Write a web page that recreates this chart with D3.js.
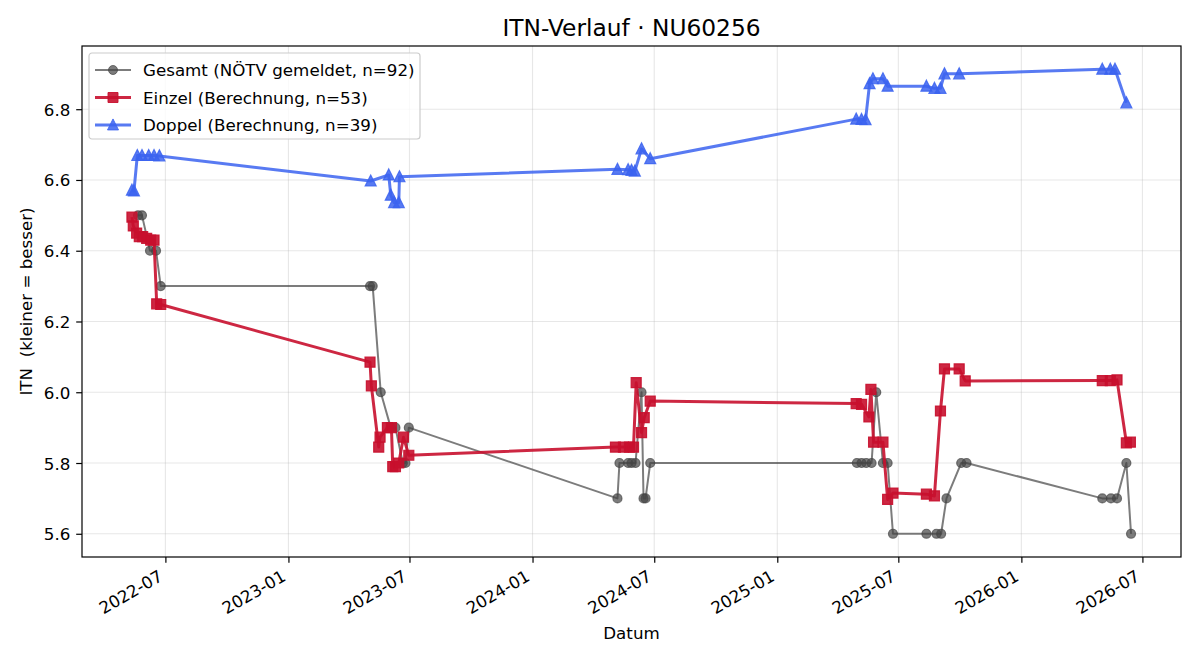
<!DOCTYPE html>
<html>
<head>
<meta charset="utf-8">
<script src="https://cdn.jsdelivr.net/npm/d3@7"></script>
<style>
  body { margin: 0; background: #fff; }
  svg, svg text { font-family: "DejaVu Sans", sans-serif; }
</style>
</head>
<body>
<div id="chart"></div>
<script>
// Gesamt (NÖTV gemeldet)
const gesamtDates = [
  '2022-05-21','2022-05-27','2022-06-08','2022-06-17','2022-06-24',
  '2023-05-03','2023-05-07','2023-05-19','2023-06-03','2023-06-10','2023-06-21','2023-06-25','2023-06-30',
  '2024-05-07','2024-05-10','2024-05-23','2024-05-28','2024-06-03','2024-06-12','2024-06-15','2024-06-18','2024-06-25',
  '2025-04-30','2025-05-07','2025-05-14','2025-05-22','2025-05-29','2025-06-08','2025-06-15','2025-06-23',
  '2025-08-12','2025-08-27','2025-09-03','2025-09-11','2025-10-03','2025-10-11',
  '2026-05-02','2026-05-15','2026-05-24','2026-06-07','2026-06-14'
];
const gesamtValues = [
  6.5, 6.5, 6.4, 6.4, 6.3,
  6.3, 6.3, 6.0, 5.9, 5.9, 5.8, 5.8, 5.9,
  5.7, 5.8, 5.8, 5.8, 5.8, 6.0, 5.7, 5.7, 5.8,
  5.8, 5.8, 5.8, 5.8, 6.0, 5.8, 5.8, 5.6,
  5.6, 5.6, 5.6, 5.7, 5.8, 5.8,
  5.7, 5.7, 5.7, 5.8, 5.6
];

// Einzel (Berechnung)
const einzelDates = [
  '2022-05-12','2022-05-14','2022-05-19','2022-05-23','2022-05-28','2022-06-03','2022-06-09','2022-06-14','2022-06-18','2022-06-24',
  '2023-05-03','2023-05-05','2023-05-16','2023-05-18','2023-05-29','2023-06-04','2023-06-06','2023-06-10','2023-06-15','2023-06-22','2023-06-30',
  '2024-05-04','2024-05-16','2024-05-25','2024-05-31','2024-06-04','2024-06-12','2024-06-16','2024-06-25',
  '2025-04-29','2025-05-07','2025-05-18','2025-05-21','2025-05-25','2025-06-08','2025-06-15','2025-06-23',
  '2025-08-12','2025-08-24','2025-09-02','2025-09-08','2025-09-30','2025-10-09',
  '2026-05-02','2026-05-14','2026-05-24','2026-06-07','2026-06-13'
];
const einzelValues = [
  6.495, 6.47, 6.45, 6.44, 6.44, 6.435, 6.43, 6.43, 6.25, 6.248,
  6.085, 6.018, 5.845, 5.873, 5.90, 5.90, 5.79, 5.79, 5.80, 5.873, 5.822,
  5.845, 5.845, 5.845, 5.845, 6.027, 5.886, 5.928, 5.975,
  5.968, 5.966, 5.93, 6.008, 5.859, 5.859, 5.697, 5.715,
  5.712, 5.707, 5.947, 6.066, 6.066, 6.032,
  6.033, 6.033, 6.035, 5.857, 5.859
];

// Doppel (Berechnung)
const doppelDates = [
  '2022-05-12','2022-05-15','2022-05-20','2022-05-27','2022-06-06','2022-06-14','2022-06-22',
  '2023-05-04','2023-05-31','2023-06-03','2023-06-08','2023-06-15','2023-06-16',
  '2024-05-07','2024-05-23','2024-05-28','2024-06-02','2024-06-12','2024-06-25',
  '2025-04-29','2025-05-07','2025-05-13','2025-05-19','2025-05-24','2025-06-08','2025-06-15',
  '2025-08-12','2025-08-24','2025-09-02','2025-09-08','2025-09-30',
  '2026-05-02','2026-05-14','2026-05-21','2026-06-07'
];
const doppelValues = [
  6.571, 6.569, 6.669, 6.669, 6.669, 6.669, 6.668,
  6.597, 6.614, 6.557, 6.536, 6.536, 6.609,
  6.630, 6.629, 6.627, 6.625, 6.688, 6.660,
  6.772, 6.771, 6.770, 6.872, 6.886, 6.886, 6.865,
  6.865, 6.859, 6.859, 6.900, 6.900,
  6.913, 6.913, 6.913, 6.818
];

const yTickValues = [5.6, 5.8, 6.0, 6.2, 6.4, 6.6, 6.8];

const legendLabels = [
  'Gesamt (NÖTV gemeldet, n=92)',
  'Einzel (Berechnung, n=53)',
  'Doppel (Berechnung, n=39)'
];

const parse = d3.timeParse('%Y-%m-%d');
const zip = (ds, vs) => ds.map((d, i) => ({ date: parse(d), value: vs[i] }));

const series = [
  { name: legendLabels[0], data: zip(gesamtDates, gesamtValues), color: '#444444', alpha: 0.7, lw: 2, marker: 'circle', size: 9 },
  { name: legendLabels[1], data: zip(einzelDates, einzelValues), color: '#c8102e', alpha: 0.9, lw: 3, marker: 'square', size: 10 },
  { name: legendLabels[2], data: zip(doppelDates, doppelValues), color: '#3b63f0', alpha: 0.85, lw: 3, marker: 'triangle', size: 11 }
];

// Setup dimensions
const width = 1200;
const height = 660;
const margin = { top: 46, right: 19, bottom: 103, left: 82 };
const innerW = width - margin.left - margin.right;
const innerH = height - margin.top - margin.bottom;
const fs = 16.7; // 10pt at 120 dpi

const allPoints = series.flatMap(s => s.data);
const [xMin, xMax] = d3.extent(allPoints, d => d.date);
const [yMin, yMax] = d3.extent(allPoints, d => d.value);
const xPad = (xMax - xMin) * 0.05;
const yPad = (yMax - yMin) * 0.05;

const x = d3.scaleTime()
  .domain([new Date(+xMin - xPad), new Date(+xMax + xPad)])
  .range([0, innerW]);
const y = d3.scaleLinear()
  .domain([yMin - yPad, yMax + yPad])
  .range([innerH, 0]);

const xTicks = d3.timeMonth.every(6).range(new Date(2022, 0, 1), new Date(2026, 11, 31))
  .filter(d => d >= x.domain()[0] && d <= x.domain()[1]);

const svg = d3.select('#chart')
  .append('svg')
  .attr('width', width)
  .attr('height', height);

const g = svg.append('g')
  .attr('transform', `translate(${margin.left},${margin.top})`);

// Grid
g.append('g')
  .selectAll('line')
  .data(xTicks)
  .join('line')
  .attr('x1', d => x(d)).attr('x2', d => x(d))
  .attr('y1', 0).attr('y2', innerH)
  .attr('stroke', '#b0b0b0').attr('stroke-opacity', 0.3).attr('stroke-width', 1.1);
g.append('g')
  .selectAll('line')
  .data(yTickValues)
  .join('line')
  .attr('x1', 0).attr('x2', innerW)
  .attr('y1', d => y(d)).attr('y2', d => y(d))
  .attr('stroke', '#b0b0b0').attr('stroke-opacity', 0.3).attr('stroke-width', 1.1);

// Axes
const xAxis = g.append('g')
  .attr('transform', `translate(0,${innerH})`)
  .call(d3.axisBottom(x).tickValues(xTicks).tickFormat(d3.timeFormat('%Y-%m')).tickSize(5.8).tickSizeOuter(0));
xAxis.selectAll('text')
  .style('font-size', fs + 'px')
  .style('font-family', '"DejaVu Sans", sans-serif')
  .attr('fill', '#000')
  .attr('text-anchor', 'end')
  .attr('dy', null)
  .attr('y', 0)
  .attr('transform', 'translate(-2,22.7) rotate(-30)');

const yAxis = g.append('g')
  .call(d3.axisLeft(y).tickValues(yTickValues).tickFormat(d3.format('.1f')).tickSize(5.8).tickSizeOuter(0));
yAxis.selectAll('text')
  .style('font-size', fs + 'px')
  .style('font-family', '"DejaVu Sans", sans-serif')
  .attr('fill', '#000')
  .attr('x', -11.6)
  .attr('dy', '0.36em');

[xAxis, yAxis].forEach(a => {
  a.select('.domain').remove();
  a.selectAll('.tick line').attr('stroke', '#000').attr('stroke-width', 1.2);
});

// Frame
g.append('rect')
  .attr('width', innerW).attr('height', innerH)
  .attr('fill', 'none').attr('stroke', '#000').attr('stroke-width', 1.2);

// Markers
const symbolFor = (type, size) => {
  if (type === 'circle') return d3.symbol(d3.symbolCircle, Math.PI * (size / 2) ** 2)();
  if (type === 'square') return d3.symbol(d3.symbolSquare, size * size)();
  const h = size;
  return `M0,${-h * 0.55}L${h * 0.5},${h * 0.45}L${-h * 0.5},${h * 0.45}Z`;
};

const line = d3.line().x(d => x(d.date)).y(d => y(d.value));

series.forEach(s => {
  g.append('path')
    .datum(s.data)
    .attr('d', line)
    .attr('fill', 'none')
    .attr('stroke', s.color)
    .attr('stroke-opacity', s.alpha)
    .attr('stroke-width', s.lw)
    .attr('stroke-linejoin', 'round');

  g.append('g')
    .selectAll('path')
    .data(s.data)
    .join('path')
    .attr('transform', d => `translate(${x(d.date)},${y(d.value)})`)
    .attr('d', symbolFor(s.marker, s.size))
    .attr('fill', s.color)
    .attr('fill-opacity', s.alpha)
    .attr('stroke', s.color)
    .attr('stroke-opacity', s.alpha)
    .attr('stroke-width', 1.2);
});

// Legend
const legend = g.append('g').attr('transform', 'translate(7,7)');
legend.append('rect')
  .attr('width', 331).attr('height', 86)
  .attr('rx', 3)
  .attr('fill', '#fff').attr('fill-opacity', 0.8)
  .attr('stroke', '#cccccc').attr('stroke-width', 1.2);
series.forEach((s, i) => {
  const row = legend.append('g').attr('transform', `translate(0,${17 + i * 27.5})`);
  row.append('line')
    .attr('x1', 6).attr('x2', 42)
    .attr('stroke', s.color).attr('stroke-opacity', s.alpha).attr('stroke-width', s.lw);
  row.append('path')
    .attr('transform', 'translate(24,0)')
    .attr('d', symbolFor(s.marker, s.size))
    .attr('fill', s.color).attr('fill-opacity', s.alpha)
    .attr('stroke', s.color).attr('stroke-opacity', s.alpha);
  row.append('text')
    .attr('x', 54).attr('dy', '0.36em')
    .style('font-size', fs + 'px')
    .text(s.name);
});

// Title and axis labels
svg.append('text')
  .attr('x', margin.left + innerW / 2).attr('y', 36)
  .attr('text-anchor', 'middle')
  .style('font-size', '23.3px')
  .text('ITN-Verlauf · NU60256');

svg.append('text')
  .attr('x', margin.left + innerW / 2).attr('y', 639)
  .attr('text-anchor', 'middle')
  .style('font-size', fs + 'px')
  .text('Datum');

svg.append('text')
  .attr('transform', `translate(32,${margin.top + innerH / 2}) rotate(-90)`)
  .attr('text-anchor', 'middle')
  .style('font-size', fs + 'px')
  .style('white-space', 'pre')
  .text('ITN  (kleiner = besser)');
</script>
</body>
</html>
